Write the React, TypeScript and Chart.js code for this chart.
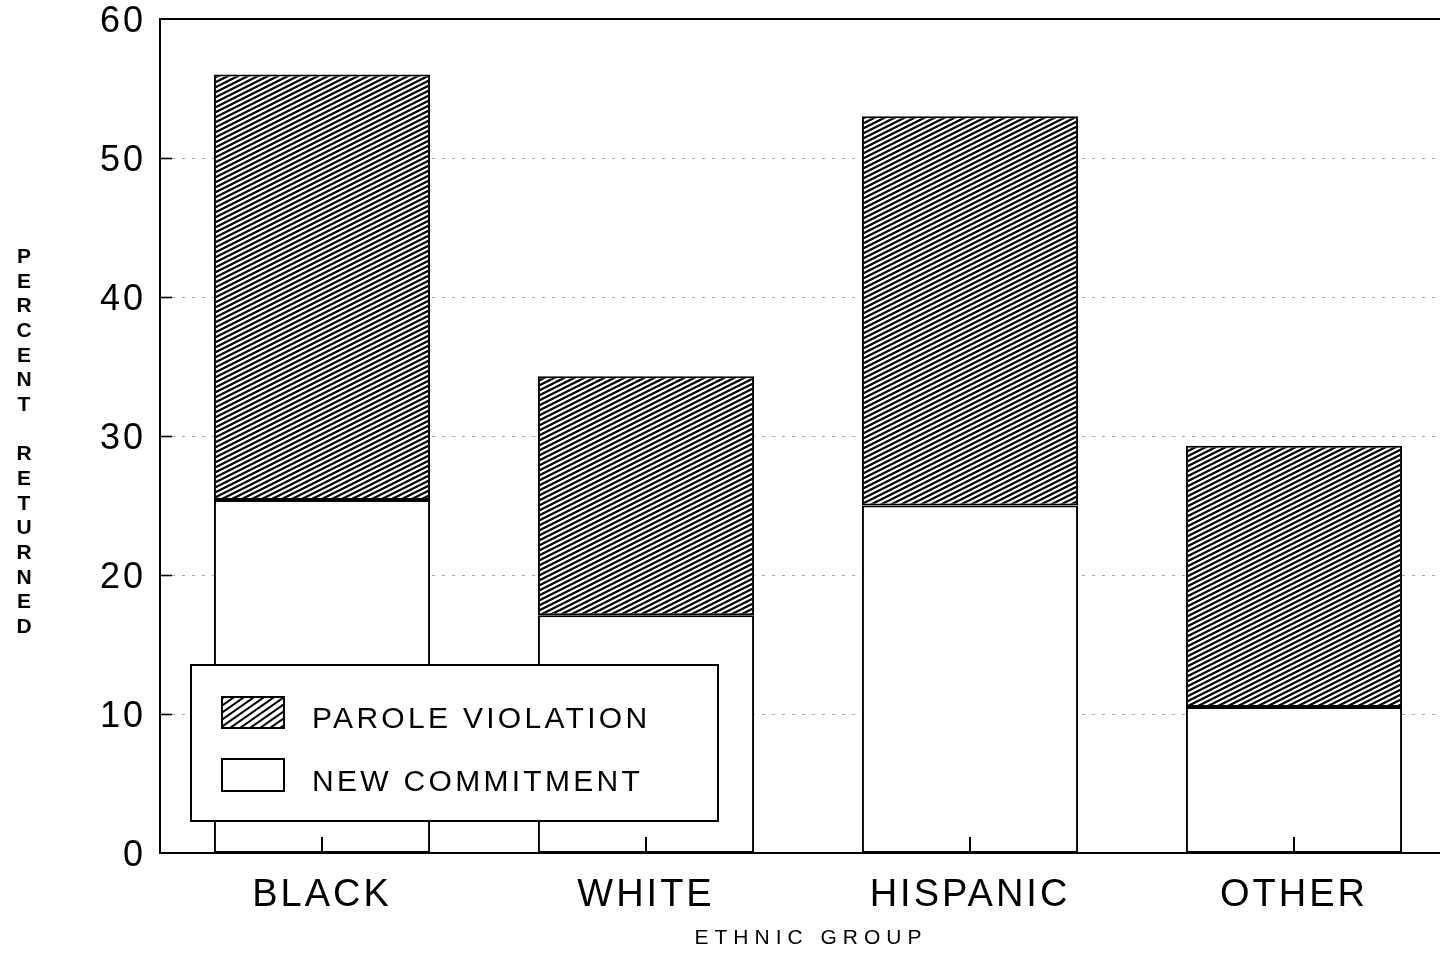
import React, { useEffect, useRef } from 'react';
import { Chart, registerables } from 'chart.js';

Chart.register(...registerables);

const categories = ['BLACK', 'WHITE', 'HISPANIC', 'OTHER'];
const newCommitment = [25.4, 17.1, 25.0, 10.5];
const paroleViolation = [30.6, 17.2, 28.0, 18.8];
const yTicks = [0, 10, 20, 30, 40, 50, 60];
const seriesNames = ['PAROLE VIOLATION', 'NEW COMMITMENT'];
const yTitle = 'PERCENT RETURNED';
const xTitle = 'ETHNIC GROUP';

const FONT = "'Liberation Sans', Arial, Helvetica, sans-serif";

function makeBarHatch(): CanvasPattern | string {
  const c = document.createElement('canvas');
  c.width = 20;
  c.height = 10;
  const g = c.getContext('2d');
  if (!g) return '#888';
  g.fillStyle = '#fff';
  g.fillRect(0, 0, 20, 10);
  g.strokeStyle = '#000';
  g.lineWidth = 2.3;
  for (let k = -3; k <= 5; k++) {
    g.beginPath();
    g.moveTo(-2, 10 + 5 * k + 1);
    g.lineTo(22, 5 * k - 1);
    g.stroke();
  }
  const p = g.createPattern(c, 'repeat');
  return p || '#888';
}

function makeLegendHatch(): CanvasPattern | string {
  const c = document.createElement('canvas');
  c.width = 10;
  c.height = 7;
  const g = c.getContext('2d');
  if (!g) return '#888';
  g.fillStyle = '#fff';
  g.fillRect(0, 0, 10, 7);
  g.strokeStyle = '#000';
  g.lineWidth = 2.0;
  for (let k = -2; k <= 2; k++) {
    g.beginPath();
    g.moveTo(-2, 7 + 7 * k + 1.4);
    g.lineTo(12, 7 * k - 1.4);
    g.stroke();
  }
  const p = g.createPattern(c, 'repeat');
  return p || '#888';
}

export default function App() {
  const ref = useRef<HTMLCanvasElement | null>(null);

  useEffect(() => {
    if (!ref.current) return;
    const barHatch = makeBarHatch();
    const legendHatch = makeLegendHatch();

    const decor = {
      id: 'decor',
      beforeDraw(chart: any) {
        chart.ctx.letterSpacing = '3px';
      },
      beforeDatasetsDraw(chart: any) {
        const { ctx, chartArea, scales } = chart;
        const y = scales.y;
        ctx.save();
        ctx.letterSpacing = '0px';
        ctx.strokeStyle = 'rgba(0,0,0,0.35)';
        ctx.lineWidth = 1;
        ctx.setLineDash([3, 7]);
        yTicks.forEach((v) => {
          if (v <= 0 || v >= 60) return;
          const py = Math.round(y.getPixelForValue(v)) + 0.5;
          ctx.beginPath();
          ctx.moveTo(chartArea.left + 12, py);
          ctx.lineTo(chartArea.right, py);
          ctx.stroke();
        });
        ctx.restore();
      },
      afterDatasetsDraw(chart: any) {
        const { ctx, chartArea, scales } = chart;
        const x = scales.x;
        const y = scales.y;
        ctx.save();
        ctx.letterSpacing = '0px';
        ctx.setLineDash([]);

        // top frame line
        ctx.strokeStyle = '#000';
        ctx.lineWidth = 2;
        ctx.beginPath();
        ctx.moveTo(chartArea.left - 1, chartArea.top);
        ctx.lineTo(chartArea.right, chartArea.top);
        ctx.stroke();

        // inner y ticks
        ctx.lineWidth = 1.6;
        yTicks.forEach((v) => {
          if (v <= 0 || v >= 60) return;
          const py = Math.round(y.getPixelForValue(v)) + 0.5;
          ctx.beginPath();
          ctx.moveTo(chartArea.left, py);
          ctx.lineTo(chartArea.left + 12, py);
          ctx.stroke();
        });

        // inner x ticks
        ctx.lineWidth = 2;
        categories.forEach((_, i) => {
          const px = Math.round(x.getPixelForValue(i));
          ctx.beginPath();
          ctx.moveTo(px, chartArea.bottom - 16);
          ctx.lineTo(px, chartArea.bottom);
          ctx.stroke();
        });

        // legend box
        ctx.fillStyle = '#fff';
        ctx.fillRect(191, 665, 527, 156);
        ctx.lineWidth = 2;
        ctx.strokeRect(191, 665, 527, 156);

        ctx.fillStyle = legendHatch as any;
        ctx.fillRect(222, 697, 62, 31);
        ctx.lineWidth = 2;
        ctx.strokeRect(222, 697, 62, 31);

        ctx.fillStyle = '#fff';
        ctx.fillRect(222, 759, 62, 32);
        ctx.strokeRect(222, 759, 62, 32);

        ctx.fillStyle = '#000';
        ctx.font = `30px ${FONT}`;
        ctx.letterSpacing = '3.3px';
        ctx.textAlign = 'left';
        ctx.textBaseline = 'alphabetic';
        ctx.fillText(seriesNames[0], 312, 728);
        ctx.fillText(seriesNames[1], 312, 791);

        // x title
        ctx.font = `21px ${FONT}`;
        ctx.letterSpacing = '6px';
        ctx.textAlign = 'center';
        ctx.fillText(xTitle, (chartArea.left + chartArea.right) / 2 + 3, 944);

        // y title stacked letters
        ctx.letterSpacing = '0px';
        ctx.font = `bold 21px ${FONT}`;
        const letters = yTitle.split('');
        letters.forEach((ch, i) => {
          if (ch === ' ') return;
          ctx.fillText(ch, 24, 263 + i * 24.67);
        });

        ctx.restore();
      },
    };

    const chart = new Chart(ref.current, {
      type: 'bar',
      data: {
        labels: categories,
        datasets: [
          {
            label: seriesNames[1],
            data: newCommitment,
            backgroundColor: '#fff',
            borderColor: '#000',
            borderWidth: 2,
            borderSkipped: false,
            barPercentage: 0.667,
            categoryPercentage: 1,
          },
          {
            label: seriesNames[0],
            data: paroleViolation,
            backgroundColor: barHatch as any,
            borderColor: '#000',
            borderWidth: 2,
            borderSkipped: false,
            barPercentage: 0.667,
            categoryPercentage: 1,
          },
        ],
      },
      options: {
        responsive: false,
        animation: false,
        devicePixelRatio: 1,
        layout: { padding: { top: 19, right: 14, bottom: 0, left: 0 } },
        plugins: {
          legend: { display: false },
          tooltip: { enabled: false },
          title: { display: false },
        },
        scales: {
          x: {
            stacked: true,
            grid: { display: false, drawTicks: false },
            border: { display: true, color: '#000', width: 2 },
            ticks: {
              color: '#000',
              font: { family: FONT, size: 38 },
              padding: 20,
              maxRotation: 0,
              autoSkip: false,
            },
            afterFit: (s: any) => {
              s.height = 100;
              s.paddingLeft = 0;
              s.paddingRight = 0;
            },
          },
          y: {
            stacked: true,
            min: 0,
            max: 60,
            grid: { display: false, drawTicks: false },
            border: { display: true, color: '#000', width: 2 },
            afterBuildTicks: (s: any) => {
              s.ticks = yTicks.map((v) => ({ value: v }));
            },
            ticks: {
              color: '#000',
              font: { family: FONT, size: 36, lineHeight: 1 },
              padding: 14,
              labelOffset: 3,
              callback: (v: any) => String(v),
            },
            afterFit: (s: any) => {
              s.width = 160;
              s.paddingTop = 0;
              s.paddingBottom = 0;
            },
          },
        },
      },
      plugins: [decor],
    });

    return () => chart.destroy();
  }, []);

  return (
    <div
      style={{
        position: 'fixed',
        left: 0,
        top: 0,
        width: 1440,
        height: 953,
        overflow: 'hidden',
        background: '#fff',
      }}
    >
      <canvas ref={ref} width={1470} height={953} style={{ display: 'block' }} />
    </div>
  );
}
